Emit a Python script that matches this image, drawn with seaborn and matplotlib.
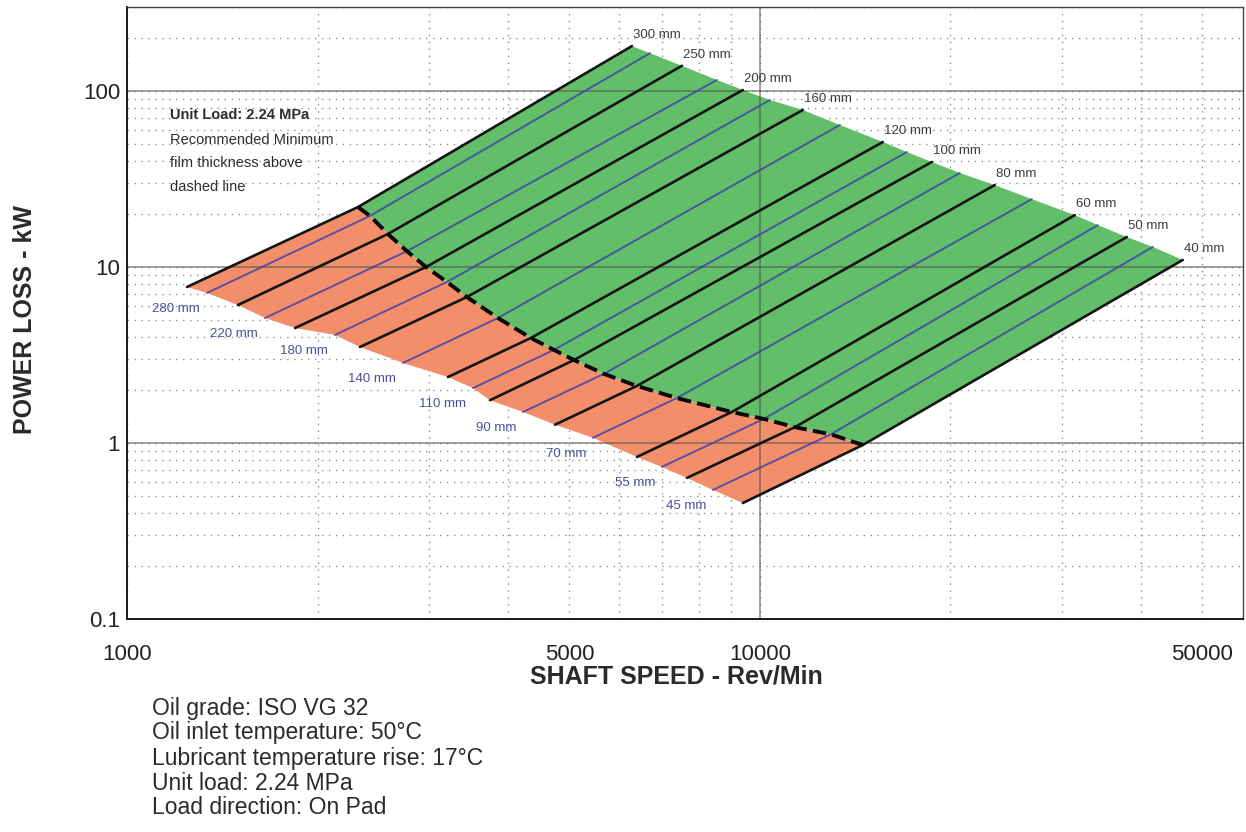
import numpy as np
import pandas as pd
import matplotlib
matplotlib.use("Agg")
import matplotlib.pyplot as plt
import seaborn as sns
from matplotlib.ticker import FixedLocator, LogLocator, NullFormatter, FuncFormatter

# Journal diameters (mm), largest to smallest
diameters = [300, 280, 250, 220, 200, 180, 160, 140, 120, 110,
             100, 90, 80, 70, 60, 55, 50, 45, 40]

# Lowest speed of each curve (rev/min) and its power loss (kW)
start_speed = [1244, 1338, 1497, 1652, 1843, 2131, 2334, 2729, 3215, 3521,
               3746, 4223, 4745, 5447, 6393, 7000, 7667, 8428, 9400]
start_power = [7.70, 7.12, 6.08, 5.13, 4.50, 4.11, 3.51, 2.85, 2.37, 2.05,
               1.75, 1.50, 1.27, 1.07, 0.833, 0.731, 0.633, 0.541, 0.456]

# Point where each curve meets the minimum film thickness line
film_speed = [2317, 2421, 2584, 2769, 2968, 3203, 3444, 3856, 4347, 4727,
              5085, 5670, 6393, 7393, 9032, 10146, 11357, 12947, 14543]
film_power = [21.9, 19.5, 15.4, 12.3, 10.0, 8.22, 6.75, 5.13, 3.95, 3.38,
              2.96, 2.47, 2.11, 1.80, 1.50, 1.37, 1.23, 1.12, 0.974]

# Highest speed of each curve
end_speed = [6279, 6704, 7529, 8554, 9400, 10371, 11692, 13381, 15643, 17072,
             18694, 20701, 23500, 26900, 31450, 34200, 38000, 41780, 46580]
end_power = [180, 164, 139, 115.5, 101.3, 88.9, 78.0, 64.1, 51.3, 45.0,
             39.5, 34.2, 29.2, 24.3, 19.7, 17.3, 14.8, 13.0, 10.96]

x_ticks = [1000, 5000, 10000, 50000]
y_ticks = [0.1, 1, 10, 100]
x_lines = [10000]
y_lines = [1, 10, 100]

info_lines = ["Oil grade: ISO VG 32",
              "Oil inlet temperature: 50\u00b0C",
              "Lubricant temperature rise: 17\u00b0C",
              "Unit load: 2.24 MPa",
              "Load direction: On Pad"]
note_lines = ["Unit Load: 2.24 MPa", "Recommended Minimum",
              "film thickness above", "dashed line"]

# Long table: one row per vertex of every curve
rows = []
for i, d in enumerate(diameters):
    grp = "black" if i % 2 == 0 else "blue"
    for k, (s, p) in enumerate([(start_speed[i], start_power[i]),
                                (film_speed[i], film_power[i]),
                                (end_speed[i], end_power[i])]):
        rows.append(dict(diameter=d, group=grp, order=k, speed=s, power=p))
df = pd.DataFrame(rows)

sns.set_theme(style="white")
plt.rcParams["font.family"] = ["Liberation Sans", "DejaVu Sans"]

fig = plt.figure(figsize=(12.46, 8.32), dpi=100)
ax = fig.add_axes([127 / 1246, 1 - 619 / 832, 1116 / 1246, 612 / 832])
ax.set_xscale("log")
ax.set_yscale("log")
ax.set_xlim(1000, 58000)
ax.set_ylim(0.1, 300)

GREEN = "#62be68"
SALMON = "#f38e6a"

# Operating region below the film thickness line
red_x = start_speed + film_speed[::-1]
red_y = start_power + film_power[::-1]
ax.fill(red_x, red_y, color=SALMON, lw=0, zorder=1)
# Operating region above it
green_x = film_speed + end_speed[::-1]
green_y = film_power + end_power[::-1]
ax.fill(green_x, green_y, color=GREEN, lw=0, zorder=1)

# Grid: dotted minor, solid decades over the fills
ax.set_axisbelow(True)
ax.xaxis.set_major_locator(FixedLocator(x_ticks))
ax.xaxis.set_major_formatter(FuncFormatter(lambda v, _: f"{v:g}"))
ax.xaxis.set_minor_locator(LogLocator(base=10, subs=np.arange(2, 10)))
ax.xaxis.set_minor_formatter(NullFormatter())
ax.yaxis.set_major_locator(FixedLocator(y_ticks))
ax.yaxis.set_major_formatter(FuncFormatter(lambda v, _: f"{v:g}"))
ax.yaxis.set_minor_locator(LogLocator(base=10, subs=np.arange(2, 10)))
ax.yaxis.set_minor_formatter(NullFormatter())
ax.grid(which="both", ls=(0, (1, 4)), color="#8f8f8f", lw=1.0)
for v in x_lines:
    ax.axvline(v, color="#555555", lw=1.1, alpha=0.7, zorder=2)
for v in y_lines:
    ax.axhline(v, color="#555555", lw=1.1, alpha=0.7, zorder=2)

# Diameter curves, alternating black / blue
sns.lineplot(data=df[df.group == "blue"], x="speed", y="power", units="diameter",
             estimator=None, sort=False, color="#3a3fa8", alpha=0.8, lw=1.4,
             ax=ax, zorder=3, legend=False)
sns.lineplot(data=df[df.group == "black"], x="speed", y="power", units="diameter",
             estimator=None, sort=False, color="#141414", lw=1.9,
             ax=ax, zorder=4, legend=False)

# Minimum film thickness boundary
ax.plot(film_speed, film_power, color="#0a0a0a", lw=2.8, ls=(0, (3.5, 1.6)), zorder=5)

# Diameter labels: black curves at their top end, blue curves at their start
for i, d in enumerate(diameters):
    if i % 2 == 0:
        ax.annotate(f"{d} mm", (end_speed[i], end_power[i]), xytext=(1, 8),
                    textcoords="offset points", ha="left", va="center",
                    fontsize=9.5, color="#3c3c3c", zorder=6)
    else:
        ax.annotate(f"{d} mm", (start_speed[i], start_power[i]), xytext=(-5, -11.5),
                    textcoords="offset points", ha="right", va="center",
                    fontsize=9.5, color="#4b4f9e", zorder=6)

# Note in the upper left corner
note_y = [0.8235, 0.7827, 0.7451, 0.7059]
for k, (txt, yy) in enumerate(zip(note_lines, note_y)):
    ax.text(0.0385, yy, txt, transform=ax.transAxes, fontsize=10.5,
            fontweight="bold" if k == 0 else "normal", color="#2e2e2e",
            ha="left", va="center", zorder=6)

# Axes styling
for side in ["left", "bottom"]:
    ax.spines[side].set_color("#1a1a1a")
    ax.spines[side].set_linewidth(1.4)
for side in ["top", "right"]:
    ax.spines[side].set_color("#444444")
    ax.spines[side].set_linewidth(1.0)
ax.tick_params(axis="both", which="major", labelsize=16, colors="#1a1a1a",
               labelcolor="#222222", length=8, width=1.2)
ax.tick_params(axis="x", which="major", direction="inout", pad=14)
ax.tick_params(axis="y", which="major", direction="inout", pad=1)
ax.tick_params(axis="both", which="minor", length=4, width=1.0, colors="#333333")
ax.tick_params(axis="x", which="minor", direction="inout")
ax.tick_params(axis="y", which="minor", direction="out")

ax.set_xlabel("SHAFT SPEED - Rev/Min", fontsize=18, fontweight="bold", color="#2a2a2a")
ax.set_ylabel("POWER LOSS - kW", fontsize=18, fontweight="bold", color="#2a2a2a")
ax.xaxis.set_label_coords(0.492, -0.075)
ax.yaxis.set_label_coords(-0.081, 0.4886)

# Operating conditions under the chart
info_y = [708, 733, 758, 783, 808]
for txt, yy in zip(info_lines, info_y):
    fig.text(152 / 1246, 1 - yy / 832, txt, fontsize=16.5, color="#2a2a2a",
             ha="left", va="center")

fig.savefig("out.png", dpi=100)
